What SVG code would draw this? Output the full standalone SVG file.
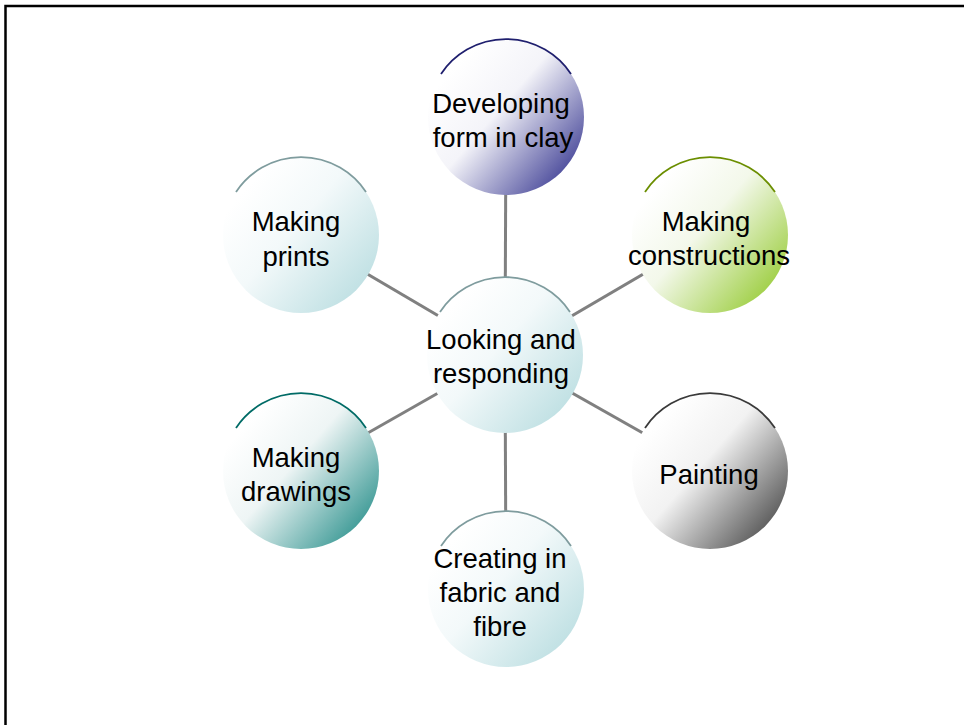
<svg xmlns="http://www.w3.org/2000/svg" width="964" height="725" viewBox="0 0 964 725">
<style>
.lbl{font-family:"Liberation Sans",Arial,sans-serif;font-size:27.5px;fill:#000;text-anchor:middle}
.conn{stroke:#808080;stroke-width:3;fill:none}
.arc{fill:none;stroke-width:1.8}
</style>
<defs>
<linearGradient id="gBlue" x1="0.15" y1="0.2" x2="0.9" y2="0.85">
<stop offset="0" stop-color="#ffffff"/><stop offset="0.4" stop-color="#f4f4f9"/><stop offset="1" stop-color="#4c4c9c"/>
</linearGradient>
<linearGradient id="gGreen" x1="0.15" y1="0.2" x2="0.9" y2="0.85">
<stop offset="0" stop-color="#ffffff"/><stop offset="0.4" stop-color="#f3f8ea"/><stop offset="1" stop-color="#9fcf45"/>
</linearGradient>
<linearGradient id="gGray" x1="0.15" y1="0.2" x2="0.9" y2="0.85">
<stop offset="0" stop-color="#ffffff"/><stop offset="0.4" stop-color="#f2f2f2"/><stop offset="1" stop-color="#5a5a5a"/>
</linearGradient>
<linearGradient id="gTeal" x1="0.15" y1="0.2" x2="0.9" y2="0.85">
<stop offset="0" stop-color="#ffffff"/><stop offset="0.4" stop-color="#eef5f5"/><stop offset="1" stop-color="#3d9a96"/>
</linearGradient>
<linearGradient id="gLight" x1="0.15" y1="0.2" x2="0.9" y2="0.85">
<stop offset="0" stop-color="#ffffff"/><stop offset="0.4" stop-color="#f3f9fa"/><stop offset="1" stop-color="#bfe0e3"/>
</linearGradient>
</defs>
<rect x="0" y="0" width="964" height="725" fill="#ffffff"/>
<path d="M5.5,730 V6 H970" fill="none" stroke="#000" stroke-width="2.5"/>
<g id="connectors">
<line class="conn" x1="505" y1="355" x2="506" y2="117"/>
<line class="conn" x1="505" y1="355" x2="710" y2="235"/>
<line class="conn" x1="505" y1="355" x2="710" y2="471"/>
<line class="conn" x1="505" y1="355" x2="506" y2="589"/>
<line class="conn" x1="505" y1="355" x2="301" y2="471"/>
<line class="conn" x1="505" y1="355" x2="301" y2="235"/>
</g>
<g id="center">
<circle cx="505" cy="355" r="78" fill="url(#gLight)"/>
<path class="arc" stroke="#7f9c9e" d="M440,312 A78,78 0 0 1 570,312"/>
<text class="lbl" x="501" y="349">Looking and</text>
<text class="lbl" x="501" y="383">responding</text>
</g>
<g id="clay">
<circle cx="506" cy="117" r="78" fill="url(#gBlue)"/>
<path class="arc" stroke="#1f1f6e" d="M441,74 A78,78 0 0 1 571,74"/>
<text class="lbl" x="501" y="113">Developing</text>
<text class="lbl" x="503" y="147">form in clay</text>
</g>
<g id="constructions">
<circle cx="710" cy="235" r="78" fill="url(#gGreen)"/>
<path class="arc" stroke="#6b8e00" d="M645,192 A78,78 0 0 1 775,192"/>
<text class="lbl" x="706" y="231">Making</text>
<text class="lbl" x="709" y="265">constructions</text>
</g>
<g id="painting">
<circle cx="710" cy="471" r="78" fill="url(#gGray)"/>
<path class="arc" stroke="#3a3a3a" d="M645,428 A78,78 0 0 1 775,428"/>
<text class="lbl" x="709" y="484">Painting</text>
</g>
<g id="fabric">
<circle cx="506" cy="589" r="78" fill="url(#gLight)"/>
<path class="arc" stroke="#7f9c9e" d="M441,546 A78,78 0 0 1 571,546"/>
<text class="lbl" x="500" y="568">Creating in</text>
<text class="lbl" x="500" y="602">fabric and</text>
<text class="lbl" x="500" y="636">fibre</text>
</g>
<g id="drawings">
<circle cx="301" cy="471" r="78" fill="url(#gTeal)"/>
<path class="arc" stroke="#006b66" d="M236,428 A78,78 0 0 1 366,428"/>
<text class="lbl" x="296" y="467">Making</text>
<text class="lbl" x="296" y="501">drawings</text>
</g>
<g id="prints">
<circle cx="301" cy="235" r="78" fill="url(#gLight)"/>
<path class="arc" stroke="#7f9c9e" d="M236,192 A78,78 0 0 1 366,192"/>
<text class="lbl" x="296" y="231">Making</text>
<text class="lbl" x="296" y="266">prints</text>
</g>
</svg>
